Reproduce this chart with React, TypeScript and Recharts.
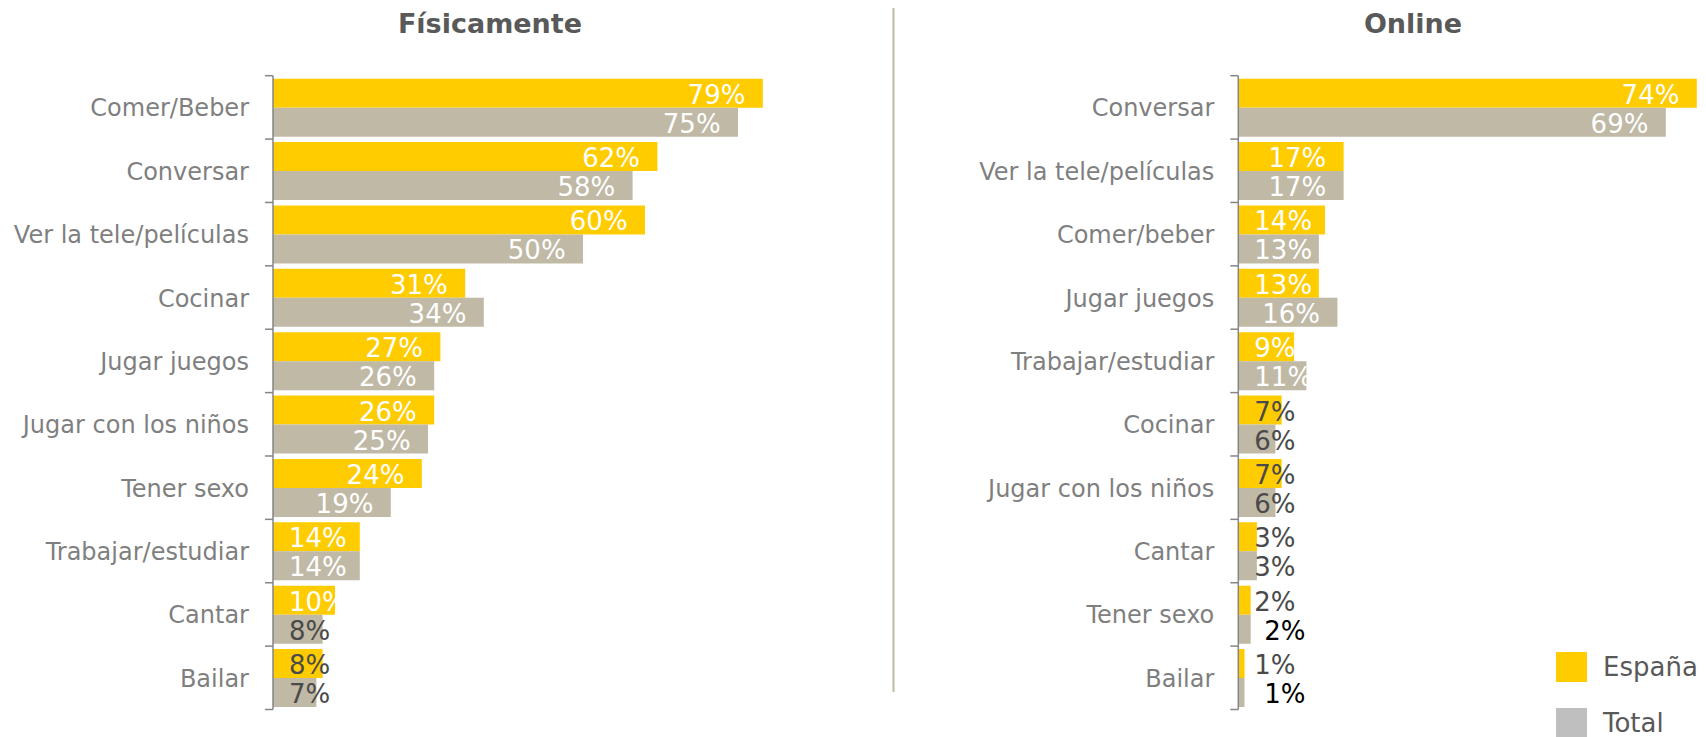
import { BarChart, Bar, XAxis, YAxis, LabelList, Legend } from 'recharts';

// --- data ---
const fisicoCategorias = [
    'Comer/Beber',
    'Conversar',
    'Ver la tele/películas',
    'Cocinar',
    'Jugar juegos',
    'Jugar con los niños',
    'Tener sexo',
    'Trabajar/estudiar',
    'Cantar',
    'Bailar',
];
const fisicoEspana = [79, 62, 60, 31, 27, 26, 24, 14, 10, 8];
const fisicoTotal = [75, 58, 50, 34, 26, 25, 19, 14, 8, 7];

const onlineCategorias = [
    'Conversar',
    'Ver la tele/películas',
    'Comer/beber',
    'Jugar juegos',
    'Trabajar/estudiar',
    'Cocinar',
    'Jugar con los niños',
    'Cantar',
    'Tener sexo',
    'Bailar',
];
const onlineEspana = [74, 17, 14, 13, 9, 7, 7, 3, 2, 1];
const onlineTotal = [69, 17, 13, 16, 11, 6, 6, 3, 2, 1];

const seriesNames = ['España', 'Total'];

// --- look ---
const FONT = '"DejaVu Sans", Verdana, sans-serif';
const YELLOW = '#FFCC00';
const BAR_GRAY = '#BFB9A6';
const LEGEND_GRAY = '#BFBFBF';
const AXIS_GRAY = '#868686';
const LABEL_GRAY = '#7F7F7F';
const TEXT_DARK = '#595959';

const HEIGHT = 737;
const PLOT_TOP = 75.7;
const PLOT_BOTTOM = 709.5;
const BAND = (PLOT_BOTTOM - PLOT_TOP) / 10;

const buildRows = (cats: string[], a: number[], b: number[]) =>
    cats.map((name, i) => ({ name, espana: a[i], total: b[i] }));

const fisicoData = buildRows(fisicoCategorias, fisicoEspana, fisicoTotal);
const onlineData = buildRows(onlineCategorias, onlineEspana, onlineTotal);

const textWidth = (s: string, fs: number) =>
    s.split('').reduce((w, c) => w + (c === '%' ? 0.928 : 0.636), 0) * fs;

const CategoryTick = (props: any) => {
    const { x, y, payload, index, count } = props;
    return (
        <g>
            <line x1={x - 8} x2={x} y1={y - BAND / 2} y2={y - BAND / 2} stroke={AXIS_GRAY} strokeWidth={1.5} />
            {index === count - 1 && (
                <line x1={x - 8} x2={x} y1={y + BAND / 2} y2={y + BAND / 2} stroke={AXIS_GRAY} strokeWidth={1.5} />
            )}
            <text x={x - 24} y={y} dy={9} textAnchor="end" fontSize={24} fill={LABEL_GRAY} fontFamily={FONT}>
                {payload.value}
            </text>
        </g>
    );
};

const makeLabel = (isTotal: boolean) => (props: any) => {
    const { x, y, width, height, value } = props;
    const fs = 26;
    const text = `${value}%`;
    const tw = textWidth(text, fs);
    let left = x + width - 18 - tw;
    if (left < x + 16) left = x + 16;
    let color = value >= 9 ? '#FFFFFF' : '#4A4A4A';
    if (isTotal && value <= 2) {
        color = '#000000';
        left = x + 26;
    }
    return (
        <text x={left} y={y + height / 2 + 10.5} fontSize={fs} fill={color} fontFamily={FONT}>
            {text}
        </text>
    );
};

const LegendContent = () => (
    <svg width={150} height={85} style={{ display: 'block' }}>
        {seriesNames.map((n, i) => (
            <g key={n}>
                <rect x={0} y={i * 56} width={31} height={30} fill={i === 0 ? YELLOW : LEGEND_GRAY} />
                <text x={47} y={i * 56 + 24} fontSize={26} fill={TEXT_DARK} fontFamily={FONT}>
                    {n}
                </text>
            </g>
        ))}
    </svg>
);

interface PanelProps {
    data: { name: string; espana: number; total: number }[];
    width: number;
    yWidth: number;
    max: number;
    right: number;
    legend?: boolean;
}

const Panel = ({ data, width, yWidth, max, right, legend }: PanelProps) => (
    <BarChart
        width={width}
        height={HEIGHT}
        data={data}
        layout="vertical"
        margin={{ top: PLOT_TOP, right, bottom: HEIGHT - PLOT_BOTTOM, left: 8 }}
        barCategoryGap={3}
        barGap={0}
    >
        <XAxis type="number" domain={[0, max]} allowDataOverflow hide />
        <YAxis
            type="category"
            dataKey="name"
            width={yWidth}
            interval={0}
            tickSize={0}
            tickMargin={0}
            tickLine={false}
            axisLine={{ stroke: AXIS_GRAY, strokeWidth: 1.5 }}
            tick={(p: any) => <CategoryTick {...p} count={data.length} />}
        />
        {legend && (
            <Legend
                layout="vertical"
                align="center"
                verticalAlign="middle"
                content={() => <LegendContent />}
                wrapperStyle={{ left: 656, top: 652, width: 150, height: 85 }}
            />
        )}
        <Bar dataKey="espana" name={seriesNames[0]} fill={YELLOW} isAnimationActive={false}>
            <LabelList dataKey="espana" content={makeLabel(false)} />
        </Bar>
        <Bar dataKey="total" name={seriesNames[1]} fill={BAR_GRAY} isAnimationActive={false}>
            <LabelList dataKey="total" content={makeLabel(true)} />
        </Bar>
    </BarChart>
);

const App = () => (
    <div
        style={{
            position: 'absolute',
            left: 0,
            top: 0,
            width: 1706,
            height: HEIGHT,
            background: '#fff',
            overflow: 'hidden',
            fontFamily: FONT,
        }}
    >
        <div style={{ position: 'absolute', left: 0, top: 0 }}>
            <Panel data={fisicoData} width={900} yWidth={265} max={100} right={7} />
        </div>
        <div style={{ position: 'absolute', left: 900, top: 0 }}>
            <Panel data={onlineData} width={806} yWidth={330.3} max={75} right={3} legend />
        </div>
        <svg
            width={1706}
            height={HEIGHT}
            style={{ position: 'absolute', left: 0, top: 0, pointerEvents: 'none' }}
        >
            <text x={490} y={33} textAnchor="middle" fontSize={27} fontWeight="bold" fill={TEXT_DARK} fontFamily={FONT}>
                Físicamente
            </text>
            <text x={1413} y={33} textAnchor="middle" fontSize={27} fontWeight="bold" fill={TEXT_DARK} fontFamily={FONT}>
                Online
            </text>
            <line x1={893.5} x2={893.5} y1={8} y2={692} stroke={BAR_GRAY} strokeWidth={2} />
        </svg>
    </div>
);

export default App;
